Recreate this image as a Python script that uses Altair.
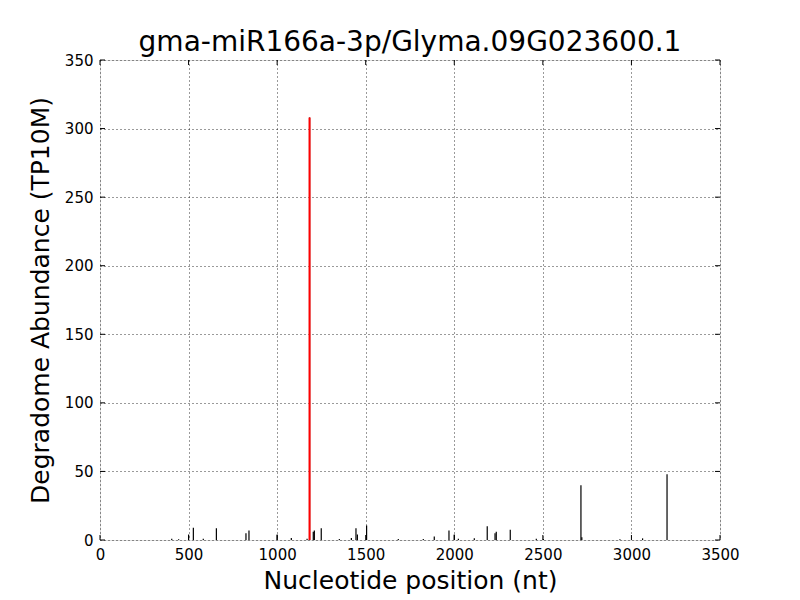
import altair as alt
import pandas as pd

# Degradome peaks (nucleotide position, abundance TP10M)
positions = [405, 444, 500, 527, 583, 657, 824, 841, 1000, 1080, 1169, 1183,
             1204, 1210, 1249, 1351, 1419, 1445, 1453, 1505, 1684, 1825, 1887,
             1970, 2000, 2023, 2113, 2186, 2230, 2237, 2316, 2463, 2503, 2715,
             2720, 2935, 3063, 3201]
values = [1, 0.6, 4, 9, 1, 8.5, 5, 7, 4, 1.5, 1, 308,
          6, 7, 8.5, 0.8, 1.5, 8.5, 4, 10.5, 0.8, 0.8, 2.5,
          7, 4, 1, 1.2, 10, 5, 6, 7.5, 1, 1, 40,
          2, 0.6, 1.2, 48]
target_pos = [1183]
target_val = [308]

x_ticks = [0, 500, 1000, 1500, 2000, 2500, 3000, 3500]
y_ticks = [0, 50, 100, 150, 200, 250, 300, 350]

title_text = "gma-miR166a-3p/Glyma.09G023600.1"
x_title = "Nucleotide position (nt)"
y_title = "Degradome Abundance (TP10M)"

W, H = 620, 480
FONT = "DejaVu Sans"

df = pd.DataFrame({"pos": positions, "val": values, "zero": [0] * len(values)})
df_t = pd.DataFrame({"pos": target_pos, "val": target_val, "zero": [0]})
df_xt = pd.DataFrame({"pos": x_ticks})
df_yt = pd.DataFrame({"val": y_ticks})

xscale = alt.Scale(domain=[0, 3500], nice=False, zero=False)
yscale = alt.Scale(domain=[0, 350], nice=False, zero=False)

xaxis = alt.Axis(values=x_ticks, grid=True, ticks=False, domain=False,
                 labelFont=FONT, labelFontSize=15, labelColor="black",
                 labelPadding=7, title=x_title, titleFont=FONT,
                 titleFontSize=25, titleFontWeight="normal", titleColor="black",
                 titlePadding=6, gridColor="black", gridDash=[1, 3],
                 gridWidth=0.8, format="d", labelFlush=False)
yaxis = alt.Axis(values=y_ticks, grid=True, ticks=False, domain=False,
                 labelFont=FONT, labelFontSize=15, labelColor="black",
                 labelPadding=7, title=y_title, titleFont=FONT,
                 titleFontSize=25, titleFontWeight="normal", titleColor="black",
                 titlePadding=11, gridColor="black", gridDash=[1, 3],
                 gridWidth=0.8, format="d", labelFlush=False)

X = lambda: alt.X("pos:Q", scale=xscale, axis=xaxis, title=x_title)
Y = lambda: alt.Y("val:Q", scale=yscale, axis=yaxis, title=y_title)

bars = alt.Chart(df).mark_rule(color="black", strokeWidth=1.2).encode(
    x=X(), y=Y(), y2="zero:Q")

red = alt.Chart(df_t).mark_rule(color="#ff0000", strokeWidth=2).encode(
    x=X(), y=Y(), y2="zero:Q")

tick_len = 5
bottom_ticks = alt.Chart(df_xt).mark_rule(color="black", strokeWidth=1).encode(
    x=X(), y=alt.value(H), y2=alt.value(H - tick_len))
top_ticks = alt.Chart(df_xt).mark_rule(color="black", strokeWidth=1).encode(
    x=X(), y=alt.value(0), y2=alt.value(tick_len))
left_ticks = alt.Chart(df_yt).mark_rule(color="black", strokeWidth=1).encode(
    y=Y(), x=alt.value(0), x2=alt.value(tick_len))
right_ticks = alt.Chart(df_yt).mark_rule(color="black", strokeWidth=1).encode(
    y=Y(), x=alt.value(W), x2=alt.value(W - tick_len))

chart = alt.layer(bars, red, bottom_ticks, top_ticks, left_ticks, right_ticks).properties(
    width=W, height=H,
    title=alt.TitleParams(title_text, font=FONT, fontSize=28, fontWeight="normal",
                          color="black", offset=7, baseline="alphabetic",
                          frame="group", dy=33),
    autosize=alt.AutoSizeParams(type="none"),
    padding={"left": 92, "top": 52, "right": 60, "bottom": 56},
).configure_view(stroke="black", strokeWidth=1.2).configure(background="white")

chart.save("out.html", embed_options={"renderer": "svg", "actions": False})
